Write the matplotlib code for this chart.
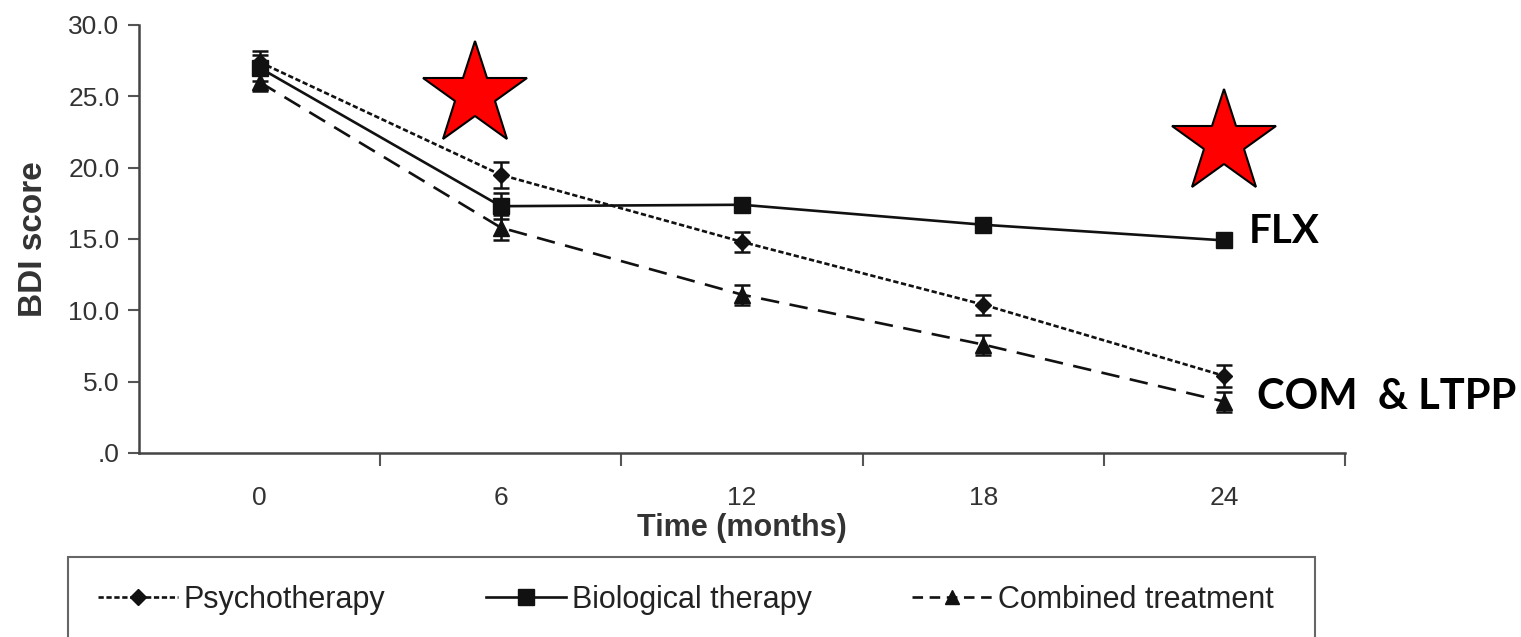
import matplotlib
matplotlib.use("Agg")
import matplotlib.pyplot as plt
from matplotlib.patches import Rectangle
from matplotlib.lines import Line2D

months = [0, 6, 12, 18, 24]
psycho = [27.4, 19.5, 14.8, 10.4, 5.4]
psycho_err = [0.8, 0.9, 0.7, 0.7, 0.8]
bio = [27.0, 17.3, 17.4, 16.0, 14.9]
bio_err = [0.9, 0.9, 0.4, 0.4, 0.4]
combined = [26.0, 15.8, 11.1, 7.6, 3.6]
combined_err = [0.6, 0.9, 0.7, 0.7, 0.7]
series_names = ["Psychotherapy", "Biological therapy", "Combined treatment"]
y_ticks = [0, 5, 10, 15, 20, 25, 30]
y_tick_labels = [".0", "5.0", "10.0", "15.0", "20.0", "25.0", "30.0"]
x_tick_labels = ["0", "6", "12", "18", "24"]
boundary_ticks = [3, 9, 15, 21, 27]
star_points = [(5.35, 25.1), (24.0, 21.7)]

plt.rcParams['font.family'] = ['Liberation Sans', 'DejaVu Sans']

fig = plt.figure(figsize=(15.21, 6.37), dpi=100)
ax = fig.add_axes([139/1521, 1-453/637, (1345-139)/1521, (453-25)/637])

col = "#111111"
lw = 1.9
ax.errorbar(months, psycho, yerr=psycho_err, color=col, lw=lw, dashes=(2.0, 1.0),
            marker="D", ms=8, capsize=6, elinewidth=1.8, capthick=1.8, zorder=3)
ax.errorbar(months, bio, yerr=bio_err, color=col, lw=lw, ls="-",
            marker="s", ms=12, capsize=6, elinewidth=1.8, capthick=1.8, zorder=3)
ax.errorbar(months, combined, yerr=combined_err, color=col, lw=lw, dashes=(7, 4),
            marker="^", ms=11, capsize=6, elinewidth=1.8, capthick=1.8, zorder=3)

ax.set_xlim(-3, 27)
ax.set_ylim(0, 30)
ax.set_yticks(y_ticks)
ax.set_yticklabels(y_tick_labels)
ax.set_xticks(months)
ax.set_xticklabels(x_tick_labels)
ax.set_xticks(boundary_ticks, minor=True)
ax.tick_params(axis="x", which="major", length=0, pad=24, labelsize=19, labelcolor="#333333")
ax.tick_params(axis="x", which="minor", length=9, width=1.5, color="#555555", direction="out")
ax.tick_params(axis="y", length=8, width=1.5, color="#555555", labelsize=19, labelcolor="#333333", pad=6)
for s in ["top", "right"]:
    ax.spines[s].set_visible(False)
for s in ["left", "bottom"]:
    ax.spines[s].set_linewidth(1.8)
    ax.spines[s].set_color("#444444")

ax.set_ylabel("BDI score", fontsize=24, fontweight="bold", color="#333333", labelpad=14)
ax.set_xlabel("Time (months)", fontsize=22, fontweight="bold", color="#333333", labelpad=2)

for (sx, sy) in star_points:
    ax.plot([sx], [sy], marker="*", ms=78, color="#ff0000", mec="black", mew=1.5,
            clip_on=False, zorder=5)

ax.text(24.6, bio[-1] + 0.6, "FLX", fontsize=29, fontweight="bold", family=["Lato", "DejaVu Sans"],
        va="center", ha="left", color="black")
ax.text(24.8, combined[-1] + 0.3, "COM  & LTPP", fontsize=30, fontweight="bold",
        family=["Lato", "DejaVu Sans"], va="center", ha="left", color="black")

# legend box
fig.patches.append(Rectangle((68/1521, -0.05), (1315-68)/1521, 0.05 + 1-557/637,
                             transform=fig.transFigure, fill=False, ec="#666666", lw=1.5))
handles = [
    Line2D([], [], color=col, lw=lw, dashes=(2.0, 1.0), marker="D", ms=8),
    Line2D([], [], color=col, lw=lw, ls="-", marker="s", ms=11),
    Line2D([], [], color=col, lw=lw, dashes=(4, 2.5), marker="^", ms=10),
]
fig.legend(handles, series_names, loc="center", bbox_to_anchor=(686/1521, 1-600/637),
           ncol=3, frameon=False, fontsize=22, handlelength=2.6, handletextpad=0.2,
           columnspacing=3.3, labelcolor="#222222")

fig.savefig("out.png", dpi=100)
